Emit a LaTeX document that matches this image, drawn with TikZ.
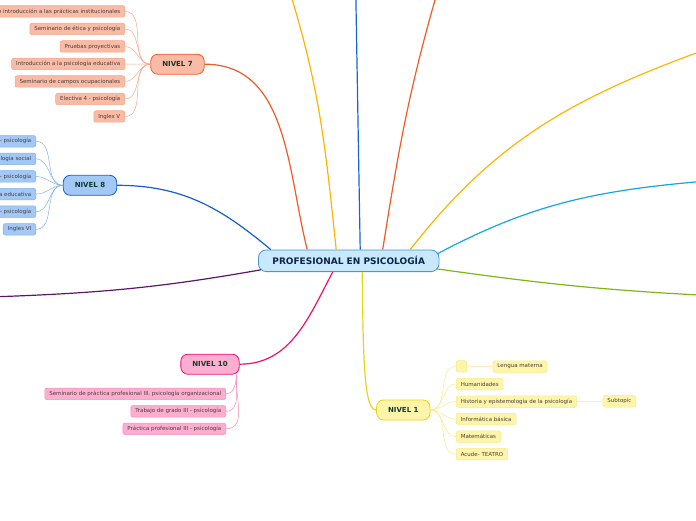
\documentclass[tikz,border=0pt]{standalone}
\usepackage{fontspec}
\setmainfont{DejaVu Sans}
\usetikzlibrary{calc}
\definecolor{HubFill}{RGB}{199,233,251}
\definecolor{HubEdge}{RGB}{74,150,214}
\definecolor{HubText}{RGB}{14,36,72}
\definecolor{LevelText}{RGB}{16,60,46}
\definecolor{LeafText}{RGB}{72,62,60}
\definecolor{CoralLine}{RGB}{240,90,40}
\definecolor{CoralFill}{RGB}{249,187,165}
\definecolor{CoralSoft}{RGB}{246,166,138}
\definecolor{NavyLine}{RGB}{20,94,206}
\definecolor{NavyFill}{RGB}{163,200,245}
\definecolor{NavySoft}{RGB}{130,178,238}
\definecolor{RoseLine}{RGB}{236,16,110}
\definecolor{RoseFill}{RGB}{253,174,208}
\definecolor{RoseSoft}{RGB}{245,140,188}
\definecolor{LemonLine}{RGB}{232,212,20}
\definecolor{LemonFill}{RGB}{255,245,170}
\definecolor{LemonSoft}{RGB}{249,232,140}
\definecolor{AmberLine}{RGB}{255,180,0}
\definecolor{RoyalLine}{RGB}{22,100,216}
\definecolor{CyanLine}{RGB}{20,164,232}
\definecolor{LimeLine}{RGB}{124,184,20}
\definecolor{PlumLine}{RGB}{90,22,108}

\begin{document}
\begin{tikzpicture}[x=1pt,y=1pt,
  hub/.style={draw=HubEdge,fill=HubFill,line width=0.8pt,rounded corners=8pt,
    minimum height=21.7pt,inner xsep=14pt,inner ysep=0pt,text=HubText,
    font=\fontsize{9}{10}\selectfont\bfseries},
  level/.style={line width=0.8pt,rounded corners=7pt,minimum height=20pt,
    inner xsep=11.5pt,inner ysep=0pt,text=LevelText,
    font=\fontsize{7}{8}\selectfont\bfseries},
  leaf/.style={line width=0.5pt,rounded corners=2pt,minimum height=11.5pt,
    minimum width=10.5pt,inner xsep=4.5pt,inner ysep=0pt,text=LeafText,
    font=\fontsize{5.5}{6}\selectfont},
  branch/.style={line width=1.2pt},
  twig/.style={line width=0.5pt}]
  \useasboundingbox (0,0) rectangle (696,520);

  % centre and levels
  \node[hub] (hub) at (348.7,259.2) {PROFESIONAL EN PSICOLOGÍA};
  \node[level,draw=CoralLine,fill=CoralFill] (n7) at (177.5,455.8) {NIVEL 7};
  \node[level,draw=NavyLine,fill=NavyFill] (n8) at (90,334.7) {NIVEL 8};
  \node[level,draw=RoseLine,fill=RoseFill] (n10) at (210,155.8) {NIVEL 10};
  \node[level,draw=LemonLine,fill=LemonFill] (n1) at (403.3,110) {NIVEL 1};

  % free ends off the page
  \coordinate (amberTop) at (290.5,526);
  \coordinate (royalTop) at (355.8,526);
  \coordinate (coralTop) at (436.7,526);
  \coordinate (amberRight) at (706,470.6);
  \coordinate (cyanRight) at (706,339);
  \coordinate (limeRight) at (706,224.6);
  \coordinate (plumLeft) at (-10,223);

  \draw[branch,NavyLine] ([xshift=-78pt]hub.north) to[out=140,in=0] (n8.east);
  \draw[branch,CoralLine] ([xshift=-41.5pt]hub.north) to[out=104,in=0] (n7.east);
  \draw[branch,AmberLine] ([xshift=-12.5pt]hub.north) to[out=96,in=-73] (amberTop);
  \draw[branch,RoyalLine] ([xshift=11.5pt]hub.north) to[out=91,in=-89] (royalTop);
  \draw[branch,CoralLine] ([xshift=34pt]hub.north) to[out=81,in=-106] (coralTop);
  \draw[branch,AmberLine] ([xshift=61.5pt]hub.north) to[out=52,in=200] (amberRight);
  \draw[branch,CyanLine] ([xshift=-2pt,yshift=7pt]hub.east) to[out=28,in=185] (cyanRight);
  \draw[branch,LimeLine] ([xshift=-3pt,yshift=-8pt]hub.east) to[out=-8,in=177] (limeRight);
  \draw[branch,PlumLine] ([xshift=3pt,yshift=-9pt]hub.west) to[out=190,in=2] (plumLeft);
  \draw[branch,RoseLine] ([xshift=-16pt]hub.south) to[out=-118,in=0] (n10.east);
  \draw[branch,LemonLine] ([xshift=13.5pt]hub.south) .. controls +(1,-90) and +(-12,0) .. (n1.west);

  % NIVEL 7
  \foreach \txt [count=\i] in {e introducción a las prácticas institucionales,
      Seminario de ética y psicología, Pruebas proyectivas,
      Introducción a la psicología educativa, Seminario de campos ocupacionales,
      Electiva 4 - psicología, Ingles V}
  {
    \node[leaf,draw=CoralSoft,fill=CoralFill,anchor=east] (n7c\i) at (125,526-17.5*\i) {\txt};
    \draw[twig,CoralSoft] (n7.west) to[out=180,in=0] (n7c\i.east);
  }

  % NIVEL 8
  \foreach \txt [count=\i] in {- psicología, ología social, - psicología,
      a educativa, - psicología, Ingles VI}
  {
    \node[leaf,draw=NavySoft,fill=NavyFill,anchor=east] (n8c\i) at (36,396.3-17.6*\i) {\txt};
    \draw[twig,NavySoft] (n8.west) to[out=180,in=0] (n8c\i.east);
  }

  % NIVEL 10
  \foreach \txt [count=\i] in {Seminario de práctica profesional III. psicología organizacional,
      Trabajo de grado III - psicología, Práctica profesional III - psicología}
  {
    \node[leaf,draw=RoseSoft,fill=RoseFill,anchor=east] (n10c\i) at (226,143.7-17.5*\i) {\txt};
    \draw[twig,RoseSoft] ([xshift=-3pt]n10.south east) to[out=-95,in=0] (n10c\i.east);
  }

  % NIVEL 1
  \foreach \txt [count=\i] in {{}, Humanidades, Historia y epistemología de la psicología,
      Informática básica, Matemáticas, Acude- TEATRO}
  {
    \node[leaf,draw=LemonSoft,fill=LemonFill,anchor=west] (n1c\i) at (456,171.1-17.55*\i) {\txt};
    \draw[twig,LemonSoft] (n1.east) to[out=0,in=180] (n1c\i.west);
  }
  \node[leaf,draw=LemonSoft,fill=LemonFill,anchor=west] (lengua) at (492.7,153.5) {Lengua materna};
  \node[leaf,draw=LemonSoft,fill=LemonFill,anchor=west] (subtopic) at (602.7,118.7) {Subtopic};
  \draw[twig,LemonSoft] (n1c1.east) -- (lengua.west);
  \draw[twig,LemonSoft] (n1c3.east) -- (subtopic.west);
\end{tikzpicture}
\end{document}
